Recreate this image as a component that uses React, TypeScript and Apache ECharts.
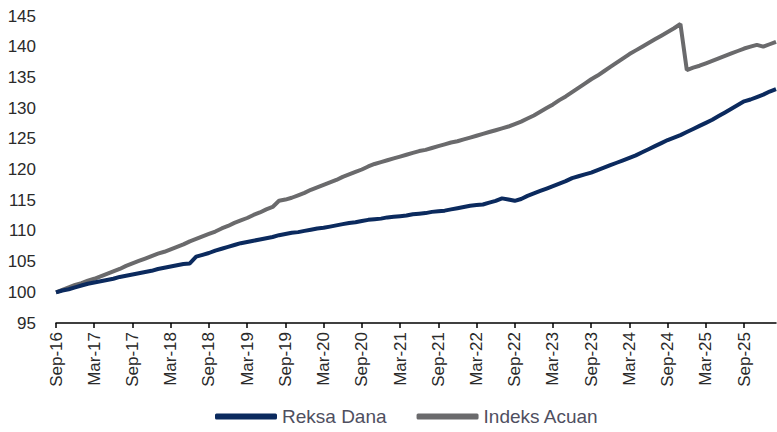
import React, { useEffect, useRef } from "react";
import * as echarts from "echarts";

const MONTHS = ["Jan", "Feb", "Mar", "Apr", "May", "Jun", "Jul", "Aug", "Sep", "Oct", "Nov", "Dec"];
const START_MONTH = 8; // Sep
const START_YEAR = 16;
const COUNT = 114; // Sep-16 .. Feb-26

const categories: string[] = [];
for (let i = 0; i < COUNT; i++) {
  const m = (START_MONTH + i) % 12;
  const y = START_YEAR + Math.floor((START_MONTH + i) / 12);
  categories.push(`${MONTHS[m]}-${y}`);
}

const reksaDana = [
  100.0, 100.3, 100.5, 100.8, 101.1, 101.4, 101.6, 101.8, 102.0, 102.2, 102.5, 102.7,
  102.9, 103.1, 103.3, 103.5, 103.8, 104.0, 104.2, 104.4, 104.6, 104.7, 105.8, 106.1,
  106.4, 106.8, 107.1, 107.4, 107.7, 108.0, 108.2, 108.4, 108.6, 108.8, 109.0, 109.3,
  109.5, 109.7, 109.8, 110.0, 110.2, 110.4, 110.5, 110.7, 110.9, 111.1, 111.3, 111.4,
  111.6, 111.8, 111.9, 112.0, 112.2, 112.3, 112.4, 112.5, 112.7, 112.8, 112.9, 113.1,
  113.2, 113.3, 113.5, 113.7, 113.9, 114.1, 114.2, 114.3, 114.6, 114.9, 115.3, 115.1,
  114.9, 115.2, 115.7, 116.1, 116.5, 116.9, 117.3, 117.7, 118.1, 118.6, 118.9, 119.2,
  119.5, 119.9, 120.3, 120.7, 121.1, 121.5, 121.9, 122.3, 122.8, 123.3, 123.8, 124.3,
  124.8, 125.2, 125.6, 126.1, 126.6, 127.1, 127.6, 128.1, 128.7, 129.3, 129.9, 130.5,
  131.1, 131.4, 131.8, 132.2, 132.7, 133.1,
];

const indeksAcuan = [
  100.0, 100.4, 100.8, 101.2, 101.5, 101.9, 102.2, 102.6, 103.0, 103.4, 103.8, 104.3,
  104.7, 105.1, 105.5, 105.9, 106.3, 106.6, 107.0, 107.4, 107.8, 108.3, 108.7, 109.1,
  109.5, 109.9, 110.4, 110.8, 111.3, 111.7, 112.1, 112.6, 113.0, 113.5, 113.9, 114.9,
  115.1, 115.4, 115.8, 116.2, 116.7, 117.1, 117.5, 117.9, 118.3, 118.8, 119.2, 119.6,
  120.0, 120.5, 120.9, 121.2, 121.5, 121.8, 122.1, 122.4, 122.7, 123.0, 123.2, 123.5,
  123.8, 124.1, 124.4, 124.6, 124.9, 125.2, 125.5, 125.8, 126.1, 126.4, 126.7, 127.0,
  127.4, 127.8, 128.3, 128.8, 129.4, 130.0, 130.6, 131.3, 131.9, 132.6, 133.3, 134.0,
  134.7, 135.3, 136.0, 136.7, 137.4, 138.1, 138.8, 139.4, 140.0, 140.6, 141.2, 141.8,
  142.4, 143.0, 143.7, 136.2, 136.6, 136.9, 137.3, 137.7, 138.1, 138.5, 138.9, 139.3,
  139.7, 140.0, 140.3, 140.0, 140.4, 140.8,
];

const Y_MIN = 95;
const Y_MAX = 145;
const Y_STEP = 5;

export default function App() {
  const ref = useRef<HTMLDivElement>(null);
  useEffect(() => {
    if (!ref.current) return;
    const chart = echarts.init(ref.current, undefined, { renderer: "svg" });
    chart.setOption({
      animation: false,
      backgroundColor: "#ffffff",
      grid: { left: 56, right: 1, top: 16, bottom: 109, containLabel: false },
      legend: {
        left: 215,
        top: 407,
        icon: "roundRect",
        itemWidth: 62,
        itemHeight: 6,
        itemGap: 30,
        padding: 0,
        textStyle: {
          fontFamily: "Liberation Sans, Arial, sans-serif",
          fontSize: 19,
          color: "#4f4f5f",
        },
        data: ["Reksa Dana", "Indeks Acuan"],
      },
      xAxis: {
        type: "category",
        data: categories,
        boundaryGap: false,
        axisLine: { show: true, lineStyle: { color: "#000000", width: 1.5 } },
        axisTick: { show: true, interval: 5, length: 5, lineStyle: { color: "#000000", width: 1.5 } },
        axisLabel: {
          interval: 5,
          rotate: 90,
          margin: 9,
          fontFamily: "Liberation Sans, Arial, sans-serif",
          fontSize: 17,
          color: "#2a2a2a",
        },
        splitLine: { show: false },
      },
      yAxis: {
        type: "value",
        min: Y_MIN,
        max: Y_MAX,
        interval: Y_STEP,
        axisLine: { show: false },
        axisTick: { show: false },
        splitLine: { show: false },
        axisLabel: {
          margin: 20,
          fontFamily: "Liberation Sans, Arial, sans-serif",
          fontSize: 17,
          color: "#2a2a2a",
        },
      },
      series: [
        {
          name: "Reksa Dana",
          type: "line",
          data: reksaDana,
          showSymbol: false,
          symbol: "none",
          lineStyle: { color: "#0b2a5e", width: 4 },
          itemStyle: { color: "#0b2a5e" },
          z: 3,
        },
        {
          name: "Indeks Acuan",
          type: "line",
          data: indeksAcuan,
          showSymbol: false,
          symbol: "none",
          lineStyle: { color: "#6a6a6c", width: 4 },
          itemStyle: { color: "#6a6a6c" },
          z: 2,
        },
      ],
    });
    return () => chart.dispose();
  }, []);
  return (
    <div
      ref={ref}
      style={{ position: "absolute", left: 0, top: 0, width: 777, height: 432 }}
    />
  );
}
